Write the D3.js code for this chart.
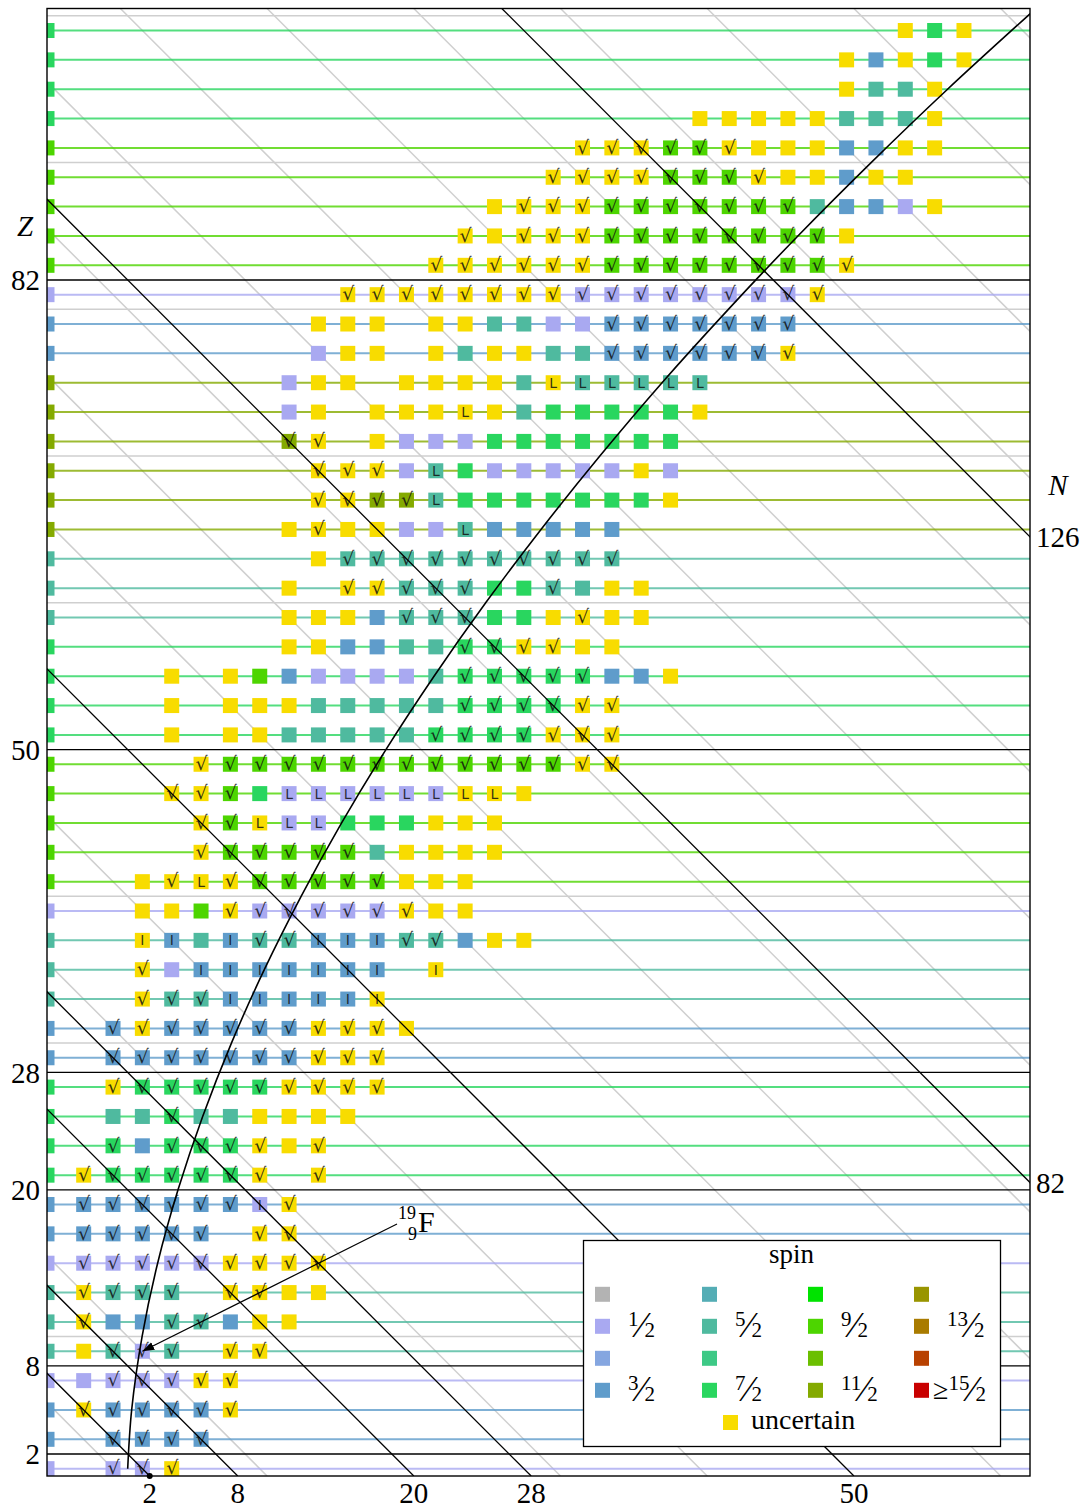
<!DOCTYPE html>
<html><head><meta charset="utf-8">
<script src="https://cdn.jsdelivr.net/npm/d3@7"></script>
<style>body{margin:0;background:#fff}svg{display:block}</style>
</head><body>
<svg id="chart" width="1088" height="1512"></svg>
<script>
// ---------- data ----------
const spinLabels = ['0','1/2','1','3/2','2','5/2','3','7/2','4','9/2','5','11/2','6','13/2','7','15/2'];
const spinColors = ['#b3b3b3','#a9a9f1','#85a6e0','#5f9ccb','#54adb5','#4fba9f','#3dc986','#29d65f',
                    '#00e300','#4dd500','#6bbf00','#84aa00','#999500','#a97b00','#b84100','#c90000'];
const uncertainColor = '#f8dc00';
const codeToSpin = {a:1, b:3, c:5, d:7, e:9, f:11};
const markSymbols = {v:'√', L:'L', I:'I'};

const rowZ = d3.range(1, 100, 2);
const rowShell = "abbacccabbddddbbcccaeeeeeddddcccffffffbbaeeeeedddd".split('');
const rowStart = [-1,-1,-3,-3,-3,-3,-3,-3,-3,-3,-3, -1,-1,-1,-1,-1, 1,1,1,1,1, 5,5,3,5, 3,3,3,
                  11,11,11, 13,11,13,13,11,11,11, 13,13, 15,21,23,25,29,31,39,49,49,53];
const rowCells = [
 "av av uv",
 "bv bv bv bv",
 "uv bv bv bv bv uv",
 "a av av av uv uv",
 "u cv av cv . uv uv",
 "uv b b cv cv b u u",
 "uv cv cv cv . uv uv u u",
 "av av av av av uv uv uv uv",
 "bv bv bv bv bv . uv uv",
 "bv bv bv bv bv bv aI uv",
 "uv dv dv dv dv dv uv . uv",
 "dv b dv dv dv uv u uv",
 "c c dv c c u u u u",
 "uv dv dv dv dv dv uv uv uv uv",
 "bv bv bv bv bv bv bv uv uv uv",
 "bv uv bv bv bv bv bv uv uv uv u",
 "uv cv cv bI bI bI bI bI uI",
 "uv a bI bI bI bI bI bI bI . uI",
 "uI bI c bI cv cv bI bI bI cv cv b u u",
 "u u e uv av av av av av uv u u",
 "u uv uL uv ev ev ev ev ev u u u",
 "uv ev ev ev ev ev c u u u u",
 "uv ev uL aL aL d d d u u u",
 "uv uv ev d aL aL aL aL aL aL uL uL u",
 "uv ev ev ev ev ev ev ev ev ev ev ev ev uv uv",
 "u . u u c c c c c dv dv dv dv uv uv uv",
 "u . u u u c c c c c dv dv dv dv uv uv",
 "u . u e b a a a a c dv dv dv dv dv b b u",
 "u u b b c c dv dv uv uv u u",
 "u u u b cv cv cv d d u uv u u",
 "u . uv uv cv cv cv d d cv c u u",
 "u cv cv cv cv cv cv cv cv cv cv",
 "u uv u u a a cL b b b b b",
 "uv uv fv fv cL d d d d d d d u",
 "uv uv uv a cL d a a a a a u a",
 "fv uv . u a a a d d d d d d d",
 "a u . u u u uL u c d d d d d u",
 "a u u . u u u u c uL cL cL cL cL cL",
 "a u u . u c u u c c bv bv bv bv bv bv uv",
 "u u u . u u c c a a bv bv bv bv bv bv bv",
 "uv uv uv uv uv uv uv uv av av av av av av av av uv",
 "uv uv uv uv uv uv ev ev ev ev ev ev ev ev uv",
 "uv u uv uv uv ev ev ev ev ev ev ev ev u",
 "u uv uv uv ev ev ev ev ev ev ev c b b a u",
 "uv uv uv uv ev ev ev uv u u b u u",
 "uv uv uv ev ev uv u u u b b u u",
 "u u u u u c c c u",
 "u c c u",
 "u b u d u",
 "u d u"
];

const magicNumbers = [2, 8, 20, 28, 50, 82, 126];
const grayZ = [10, 30, 40, 60, 70, 80, 90, 100];
const grayN = [0, 10, 30, 40, 60, 70, 80, 90, 100, 110, 120, 130, 140, 150, 160];
const zTickLabels = [2, 8, 20, 28, 50, 82];
const nTickBottom = [2, 8, 20, 28, 50];
const nTickRight = [82, 126];
// valley of stability: [Z, N-Z]
const stabilityLine = [[1,0],[5,0.27],[10,0.98],[15,2.04],[20,3.43],[25,5.11],[30,7.07],[35,9.31],
  [40,11.82],[45,14.58],[50,17.6],[55,20.88],[60,24.4],[65,28.17],[70,32.18],[75,36.42],
  [80,40.94],[85,45.68],[90,50.67],[95,55.88],[100.5,61.9]];
const annotation = {z: 9, nz: 1, mass: '19', sym: 'F'};

// ---------- layout ----------
const svg = d3.select('#chart');
const x = d3.scaleLinear().domain([-5.5, 61.5]).range([47, 1030]);
const y = d3.scaleLinear().domain([0.5, 100.5]).range([1476, 8.5]);
const [x0, x1] = x.range(), [y0, y1] = y.range();
const SQ = 15;
const serif = "'Liberation Serif','Times New Roman',serif";

svg.append('defs').append('clipPath').attr('id','plot')
  .append('rect').attr('x', x0).attr('y', y1).attr('width', x1 - x0).attr('height', y0 - y1);
svg.select('defs').append('marker').attr('id','arrow').attr('viewBox','0 0 10 10')
  .attr('refX', 10).attr('refY', 5).attr('markerWidth', 12).attr('markerHeight', 12)
  .attr('markerUnits','userSpaceOnUse').attr('orient','auto')
  .append('path').attr('d','M0,1.5 L10,5 L0,8.5 Z').attr('fill','#000');

const plot = svg.append('g').attr('clip-path','url(#plot)');
const diag = n => ({x1: x(n - 0.5), y1: y(0.5), x2: x(n - 100.5), y2: y(100.5)});

// gray helper lines
plot.selectAll('.gz').data(grayZ).join('line')
  .attr('x1', x0).attr('x2', x1).attr('y1', d => y(d)).attr('y2', d => y(d))
  .attr('stroke', '#cfcfcf').attr('stroke-width', 1.5);
plot.selectAll('.gn').data(grayN).join('line')
  .each(function(d){ const p = diag(d); d3.select(this).attr('x1',p.x1).attr('y1',p.y1).attr('x2',p.x2).attr('y2',p.y2); })
  .attr('stroke', '#cfcfcf').attr('stroke-width', 1.5);

// row lines (shell-model spin)
const rows = rowZ.map((z, i) => ({z, shell: codeToSpin[rowShell[i]], start: rowStart[i], cells: rowCells[i].split(' ')}));
plot.selectAll('.rl').data(rows).join('line')
  .attr('x1', x0).attr('x2', x1).attr('y1', d => y(d.z)).attr('y2', d => y(d.z))
  .attr('stroke', d => spinColors[d.shell]).attr('stroke-opacity', 0.8).attr('stroke-width', 2);
plot.selectAll('.lm').data(rows).join('rect')
  .attr('x', x(-5.5) - SQ/2).attr('y', d => y(d.z) - SQ/2).attr('width', SQ).attr('height', SQ)
  .attr('fill', d => spinColors[d.shell]);

// cells
const cells = [];
rows.forEach(r => r.cells.forEach((t, k) => {
  if (t === '.') return;
  cells.push({z: r.z, nz: r.start + 2*k, col: t[0], mark: t.slice(1)});
}));
plot.selectAll('.cell').data(cells).join('rect')
  .attr('x', d => x(d.nz) - SQ/2).attr('y', d => y(d.z) - SQ/2).attr('width', SQ).attr('height', SQ)
  .attr('fill', d => d.col === 'u' ? uncertainColor : spinColors[codeToSpin[d.col]]);
plot.selectAll('.mk').data(cells.filter(d => d.mark)).join('text')
  .attr('x', d => x(d.nz) + (d.mark === 'v' ? 0.5 : 0)).attr('y', d => y(d.z))
  .attr('dy', d => d.mark === 'v' ? '0.3em' : '0.36em')
  .attr('text-anchor','middle')
  .attr('font-family', "'DejaVu Sans',sans-serif")
  .attr('font-size', d => d.mark === 'v' ? 19 : 14)
  .attr('fill', '#111').attr('fill-opacity', 0.85)
  .text(d => markSymbols[d.mark]);

// magic lines
plot.selectAll('.mz').data(magicNumbers.filter(m => m <= 100)).join('line')
  .attr('x1', x0).attr('x2', x1).attr('y1', d => y(d)).attr('y2', d => y(d))
  .attr('stroke', '#000').attr('stroke-width', 1.3);
plot.selectAll('.mn').data(magicNumbers).join('line')
  .each(function(d){ const p = diag(d); d3.select(this).attr('x1',p.x1).attr('y1',p.y1).attr('x2',p.x2).attr('y2',p.y2); })
  .attr('stroke', '#000').attr('stroke-width', 1.3);

// stability curve
plot.append('path').datum(stabilityLine)
  .attr('d', d3.line().x(d => x(d[1])).y(d => y(d[0])).curve(d3.curveCatmullRom))
  .attr('fill','none').attr('stroke','#000').attr('stroke-width', 1.6);

// frame
svg.append('rect').attr('x', x0).attr('y', y1).attr('width', x1 - x0).attr('height', y0 - y1)
  .attr('fill','none').attr('stroke','#000').attr('stroke-width', 1.4);
svg.append('circle').attr('cx', x(1.5)).attr('cy', y(0.5)).attr('r', 3).attr('fill','#000');

// axis labels
const lab = svg.append('g').attr('font-family', serif).attr('font-size', 29).attr('fill','#000');
lab.selectAll('.zt').data(zTickLabels).join('text')
  .attr('x', 40).attr('y', d => y(d)).attr('dy','0.35em').attr('text-anchor','end').text(d => d);
lab.selectAll('.nb').data(nTickBottom).join('text')
  .attr('x', d => x(d - 0.5)).attr('y', 1493).attr('dy','0.35em').attr('text-anchor','middle').text(d => d);
lab.selectAll('.nr').data(nTickRight).join('text')
  .attr('x', 1036).attr('y', d => y(d - 61.5)).attr('dy','0.35em').attr('text-anchor','start').text(d => d);
lab.append('text').attr('x', 25).attr('y', 226).attr('dy','0.35em').attr('text-anchor','middle')
  .attr('font-style','italic').text('Z');
lab.append('text').attr('x', 1058).attr('y', 485).attr('dy','0.35em').attr('text-anchor','middle')
  .attr('font-style','italic').text('N');

// annotation 19F (one text element with positioned parts)
const ax = x(annotation.nz), ay = y(annotation.z);
svg.append('line').attr('x1', 397).attr('y1', 1224).attr('x2', ax).attr('y2', ay)
  .attr('stroke','#000').attr('stroke-width', 1.2).attr('marker-end','url(#arrow)');
const an = svg.append('text').attr('font-family', serif).attr('fill','#000');
an.append('tspan').attr('x', 398).attr('y', 1219).attr('font-size', 18).text(annotation.mass);
an.append('tspan').attr('x', 408).attr('y', 1240).attr('font-size', 18).text(annotation.z);
an.append('tspan').attr('x', 418).attr('y', 1232).attr('font-size', 30).text(annotation.sym);

// legend
const lg = svg.append('g').attr('font-family', serif).attr('fill','#000');
lg.append('rect').attr('x', 583.5).attr('y', 1240.5).attr('width', 417).attr('height', 206)
  .attr('fill','#fff').attr('stroke','#000').attr('stroke-width', 1.3);
lg.append('text').attr('x', 791.5).attr('y', 1263).attr('text-anchor','middle').attr('font-size', 27).text('spin');
const colX = [602.5, 709.5, 815.5, 921.5], rowY = [1294.3, 1326.3, 1358.3, 1390.3];
spinColors.forEach((c, i) => {
  const cx = colX[Math.floor(i/4)], cy = rowY[i % 4];
  lg.append('rect').attr('x', cx - 7.5).attr('y', cy - 7.5).attr('width', 15).attr('height', 15).attr('fill', c);
  if (i % 2 === 1) {
    const [num, den] = spinLabels[i].split('/');
    const t = lg.append('text').attr('x', i === 15 ? 933 : cx + 25.5).attr('y', cy - 0.5);
    if (i === 15) t.append('tspan').attr('font-size', 28).attr('dy', 9).text('≥');
    t.append('tspan').attr('font-size', 21).attr('dy', i === 15 ? -9 : 0).text(num);
    t.append('tspan').attr('font-size', 36).attr('dy', 11).text('⁄');
    t.append('tspan').attr('font-size', 21).attr('dy', 0).text(den);
  }
});
lg.append('rect').attr('x', 723).attr('y', 1415).attr('width', 15).attr('height', 15).attr('fill', uncertainColor);
lg.append('text').attr('x', 751).attr('y', 1429).attr('font-size', 28).text('uncertain');
</script>
</body></html>
